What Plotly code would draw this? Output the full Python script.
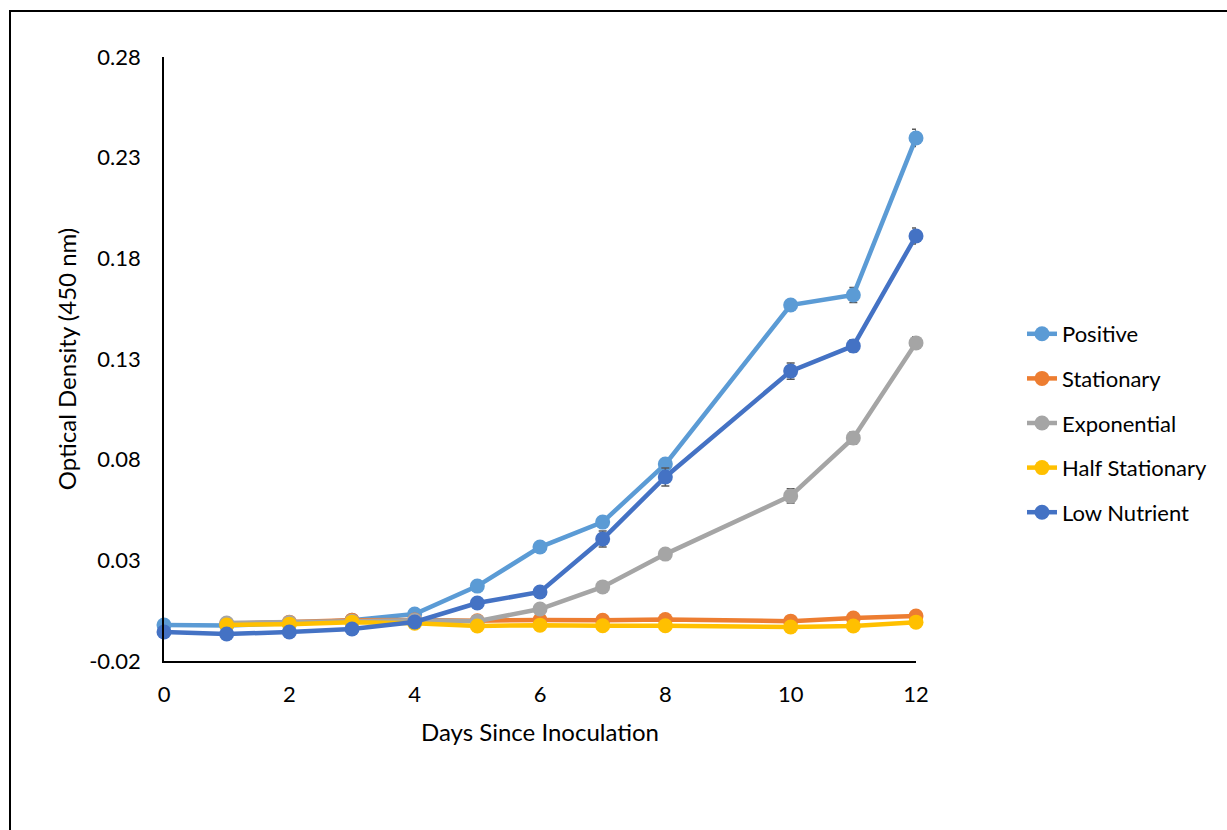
import plotly.graph_objects as go

# ---- data ----
days_full = [0, 1, 2, 3, 4, 5, 6, 7, 8, 10, 11, 12]
days_short = [1, 2, 3, 4, 5, 6, 7, 8, 10, 11, 12]

positive = [-0.0021, -0.0024, -0.0013, 0.0002, 0.0033, 0.0172, 0.0366, 0.0490, 0.0778, 0.1568, 0.1618, 0.2398]
positive_err = [0.001, 0.001, 0.001, 0.001, 0.001, 0.0015, 0.0015, 0.002, 0.0025, 0.002, 0.0037, 0.0043]

stationary = [-0.0015, -0.0007, 0.0003, 0.0004, 0.0000, 0.0004, 0.0002, 0.0006, -0.0002, 0.0013, 0.0023]
stationary_err = [0.001] * 11

exponential = [-0.0011, -0.0009, -0.0002, 0.0003, -0.0002, 0.0058, 0.0168, 0.0331, 0.0620, 0.0908, 0.1380]
exponential_err = [0.001, 0.001, 0.001, 0.001, 0.001, 0.001, 0.0015, 0.002, 0.0035, 0.003, 0.003]

half_stationary = [-0.0021, -0.0017, -0.0007, -0.0012, -0.0026, -0.0022, -0.0025, -0.0025, -0.0031, -0.0026, -0.0007]
half_stationary_err = [0.001] * 11

low_nutrient = [-0.0056, -0.0066, -0.0056, -0.0041, -0.0006, 0.0088, 0.0143, 0.0406, 0.0714, 0.1240, 0.1365, 0.1911]
low_nutrient_err = [0.001, 0.001, 0.001, 0.001, 0.001, 0.001, 0.0015, 0.004, 0.0045, 0.004, 0.003, 0.004]

y_ticks = [-0.02, 0.03, 0.08, 0.13, 0.18, 0.23, 0.28]
y_tick_labels = ["-0.02", "0.03", "0.08", "0.13", "0.18", "0.23", "0.28"]
x_ticks = [0, 2, 4, 6, 8, 10, 12]

series = [
    ("Positive", days_full, positive, positive_err, "#5B9BD5"),
    ("Stationary", days_short, stationary, stationary_err, "#ED7D31"),
    ("Exponential", days_short, exponential, exponential_err, "#A5A5A5"),
    ("Half Stationary", days_short, half_stationary, half_stationary_err, "#FFC000"),
    ("Low Nutrient", days_full, low_nutrient, low_nutrient_err, "#4472C4"),
]

W, H = 1227, 830
FONT = "Lato"

fig = go.Figure()
for name, xs, ys, errs, color in series:
    fig.add_trace(go.Scatter(
        x=xs, y=ys, name=name, mode="lines+markers",
        legendgroup=name,
        line=dict(color=color, width=4.5),
        marker=dict(color=color, size=15),
        error_y=dict(type="data", array=errs, visible=True,
                     color="#595959", thickness=1.5, width=4),
        cliponaxis=False,
    ))

x0, x1 = 164 / W, 916 / W
y0, y1 = 1 - 661 / H, 1 - 57 / H

fig.update_layout(
    width=W, height=H,
    margin=dict(l=0, r=0, t=0, b=0, autoexpand=False),
    paper_bgcolor="white", plot_bgcolor="white",
    font=dict(family=FONT, size=22, color="black"),
    showlegend=True,
    legend=dict(
        x=1022 / W, y=1 - 423 / H, xanchor="left", yanchor="middle",
        traceorder="grouped", tracegroupgap=13,
        font=dict(family=FONT, size=22, color="black"),
        bgcolor="rgba(0,0,0,0)",
    ),
    xaxis=dict(
        domain=[x0, x1], range=[0, 12], tickvals=x_ticks,
        automargin=False,
        showgrid=False, zeroline=False,
        showline=True, linecolor="black", linewidth=1.5,
        ticks="", ticklabelstandoff=13,
        tickfont=dict(family=FONT, size=22, color="black"),
        title=dict(text="Days Since Inoculation", standoff=18,
                   font=dict(family=FONT, size=24, color="black")),
    ),
    yaxis=dict(
        domain=[y0, y1], range=[-0.02, 0.28],
        tickvals=y_ticks, ticktext=y_tick_labels,
        automargin=False,
        showgrid=False, zeroline=False,
        showline=True, linecolor="black", linewidth=1.5,
        ticks="", ticklabelstandoff=17,
        tickfont=dict(family=FONT, size=22, color="black"),
        title=dict(text="Optical Density (450 nm)", standoff=6,
                   font=dict(family=FONT, size=24, color="black")),
    ),
    shapes=[dict(type="rect", xref="paper", yref="paper",
                 x0=10 / W, x1=1.05, y0=-0.05, y1=1 - 11 / H,
                 line=dict(color="black", width=2), fillcolor="rgba(0,0,0,0)")],
)

fig.write_html("out.html")
